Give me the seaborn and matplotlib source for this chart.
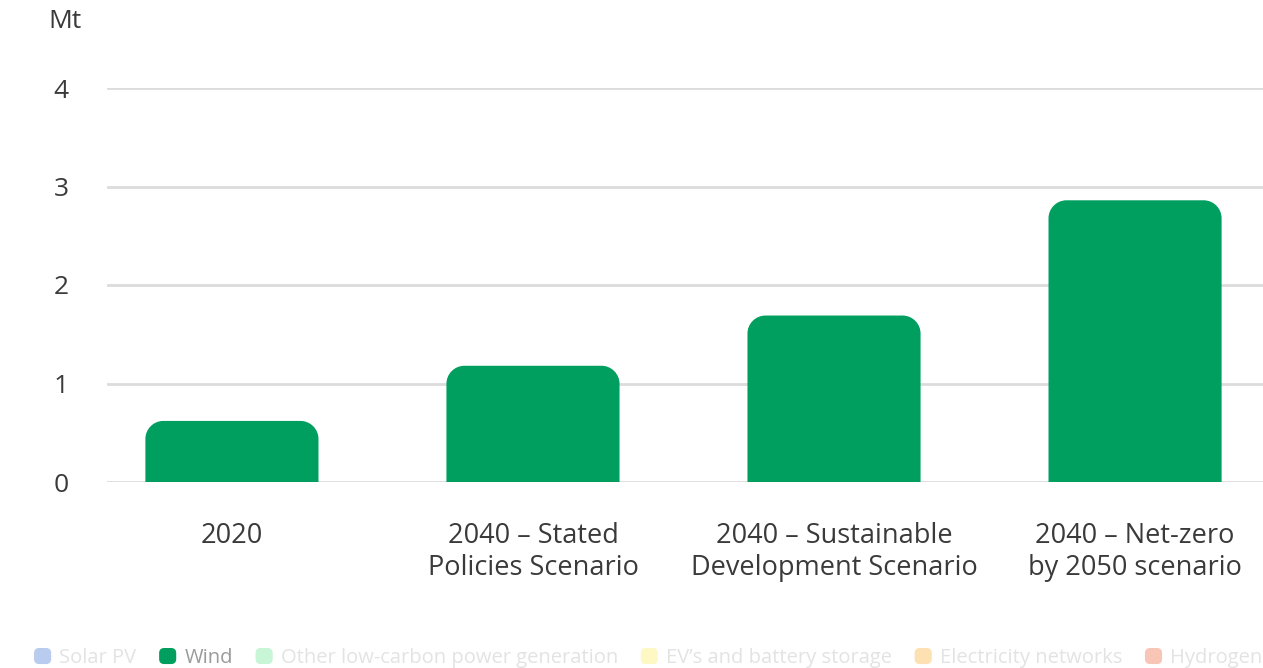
import numpy as np
import pandas as pd
import matplotlib
matplotlib.use("Agg")
import matplotlib.pyplot as plt
from matplotlib.path import Path
from matplotlib.patches import PathPatch, FancyBboxPatch
from matplotlib.legend_handler import HandlerPatch
import seaborn as sns

# Data
categories = ["2020", "2040 – Stated\nPolicies Scenario",
              "2040 – Sustainable\nDevelopment Scenario",
              "2040 – Net-zero\nby 2050 scenario"]
wind_mt = [0.62, 1.18, 1.69, 2.86]
y_ticks = [0, 1, 2, 3, 4]

legend_labels = ["Solar PV", "Wind", "Other low-carbon power generation",
                 "EV’s and battery storage", "Electricity networks", "Hydrogen"]
legend_colors = ["#b9cbef", "#009f5f", "#c7f5d6", "#fdf8c4", "#fde1b3", "#f9c5b6"]
legend_text_colors = ["#e3e3e3", "#9a9a9a", "#e3e3e3", "#e3e3e3", "#e3e3e3", "#e3e3e3"]

sns.set_theme(style="white")
plt.rcParams["font.family"] = ["Open Sans", "DejaVu Sans"]

fig = plt.figure(figsize=(12.63, 6.68), dpi=100)
ax = fig.add_axes([107 / 1263, 1 - 482 / 668, 1 - 107 / 1263, (482 - 88) / 668])

df = pd.DataFrame({"category": categories, "value": wind_mt})
sns.barplot(data=df, x="category", y="value", color="#009f5f", saturation=1,
            width=0.575, ax=ax, zorder=3)

ax.set_xlim(-0.415, 3.425)
ax.set_ylim(0, 4)
ax.set_yticks(y_ticks)
ax.set_yticklabels([str(t) for t in y_ticks])
ax.set_xlabel("")
ax.set_ylabel("")
for s in ax.spines.values():
    s.set_visible(False)
ax.grid(False)
for t in y_ticks:
    ax.axhline(t, color="#dcdcdc", lw=2, zorder=1)

ax.tick_params(axis="y", length=0, pad=33, labelsize=19, labelcolor="#3a3a3a")
ax.tick_params(axis="x", length=0, pad=28.5, labelsize=19.5, labelcolor="#3a3a3a")
for lbl in ax.get_yticklabels():
    lbl.set_horizontalalignment("center")
for lbl in ax.get_xticklabels():
    lbl.set_linespacing(1.2)
    lbl.set_verticalalignment("top")

# Replace plain rectangles with bars whose top corners are rounded
fig.canvas.draw()
radius_px = 18
inv = ax.transData.inverted()
p0 = inv.transform((0, 0))
p1 = inv.transform((radius_px, radius_px))
rx, ry = p1[0] - p0[0], p1[1] - p0[1]
k = 0.5523
for bar in list(ax.patches):
    x, y = bar.get_x(), bar.get_y()
    w, h = bar.get_width(), bar.get_height()
    color = bar.get_facecolor()
    bar.remove()
    top = y + h
    verts = [
        (x, y), (x, top - ry),
        (x, top - ry + k * ry), (x + rx - k * rx, top), (x + rx, top),
        (x + w - rx, top),
        (x + w - rx + k * rx, top), (x + w, top - ry + k * ry), (x + w, top - ry),
        (x + w, y), (x, y),
    ]
    codes = [Path.MOVETO, Path.LINETO,
             Path.CURVE4, Path.CURVE4, Path.CURVE4,
             Path.LINETO,
             Path.CURVE4, Path.CURVE4, Path.CURVE4,
             Path.LINETO, Path.CLOSEPOLY]
    ax.add_patch(PathPatch(Path(verts, codes), facecolor=color,
                           edgecolor="none", zorder=3))

# Unit label
fig.text(65 / 1263, 1 - 21 / 668, "Mt", ha="center", va="center",
         fontsize=19, color="#3a3a3a")


# Legend along the bottom with rounded swatches
def rounded_swatch(legend, orig_handle, xdescent, ydescent, width, height, fontsize):
    return FancyBboxPatch((-xdescent, -ydescent), width, height,
                          boxstyle=f"round,pad=0,rounding_size={width * 0.3}")


handles = [FancyBboxPatch((0, 0), 1, 1, facecolor=c, edgecolor="none")
           for c in legend_colors]
leg = fig.legend(handles, legend_labels, loc="center left",
                 bbox_to_anchor=(26 / 1263, 1 - 658 / 668), ncol=6,
                 frameon=False, fontsize=14.5, handlelength=0.85, handleheight=0.85,
                 handletextpad=0.4, columnspacing=1.13, borderaxespad=0,
                 handler_map={FancyBboxPatch: HandlerPatch(patch_func=rounded_swatch)})
for txt, c in zip(leg.get_texts(), legend_text_colors):
    txt.set_color(c)

fig.savefig("out.png", dpi=100)
